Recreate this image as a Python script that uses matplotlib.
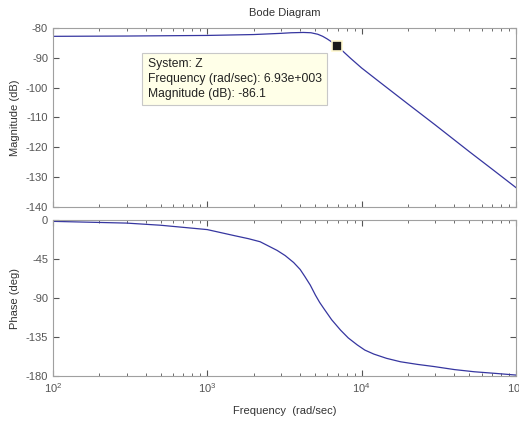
import matplotlib
matplotlib.use("Agg")
import matplotlib.pyplot as plt
from matplotlib.ticker import LogLocator, NullFormatter, FixedLocator

plt.rcParams["font.family"] = ["Liberation Sans", "DejaVu Sans"]
plt.rcParams["axes.unicode_minus"] = False

# values
mag_freq = [100, 300, 1000, 2000, 3000, 3500, 4200, 4700, 5200, 5600, 6000,
            6500, 6930, 7500, 8500, 10000, 13000, 20000, 30000, 50000, 70000,
            100000]
mag_db = [-82.8, -82.7, -82.5, -82.2, -81.8, -81.6, -81.5, -81.6, -82.1, -82.8,
          -83.7, -84.9, -86.1, -87.6, -90.2, -93.4, -98.0, -105.5, -112.5,
          -121.5, -127.3, -133.5]

ph_freq = [100, 300, 500, 1000, 1500, 1850, 2200, 2835, 3200, 3630, 4000, 4285,
           4650, 5020, 5350, 5690, 6400, 7310, 8200, 9370, 10500, 12000, 14500,
           17900, 23000, 29500, 40000, 53700, 75000, 100000]
ph_deg = [-1.5, -3.5, -6, -11, -18, -21.5, -25, -35, -41, -49, -57, -65, -75,
          -86.5, -95, -102, -115, -127, -136, -144, -150, -154.6, -159.5,
          -163.5, -166.5, -169, -172.5, -175, -177, -178.8]

tip_freq = 6930
tip_mag = -86.1

mag_ticks = [-80, -90, -100, -110, -120, -130, -140]
ph_ticks = [0, -45, -90, -135, -180]

LINE = "#3636a0"
GREY = "#555555"
SPINE = "#a0a0a0"

fig = plt.figure(figsize=(5.19, 4.24), dpi=100)
ax1 = fig.add_axes([0.102, 0.512, 0.892, 0.422])
ax2 = fig.add_axes([0.102, 0.113, 0.892, 0.368])

ax1.semilogx(mag_freq, mag_db, color=LINE, lw=0.9)
ax2.semilogx(ph_freq, ph_deg, color=LINE, lw=0.9)

for ax in (ax1, ax2):
    ax.set_xlim(1e2, 1e5)
    ax.xaxis.set_major_locator(LogLocator(base=10, numticks=10))
    ax.xaxis.set_minor_locator(LogLocator(base=10, subs=range(2, 10), numticks=20))
    ax.xaxis.set_minor_formatter(NullFormatter())
    ax.tick_params(which="both", direction="in", top=True, right=True,
                   colors=GREY, labelsize=8, length=4)
    ax.tick_params(which="minor", length=2.5)
    for s in ax.spines.values():
        s.set_color(SPINE)
        s.set_linewidth(0.8)

ax1.set_ylim(-140, -80)
ax1.yaxis.set_major_locator(FixedLocator(mag_ticks))
ax1.tick_params(labelbottom=False)
ax2.set_ylim(-180, 0)
ax2.yaxis.set_major_locator(FixedLocator(ph_ticks))

ax1.set_ylabel("Magnitude (dB)", fontsize=8, color="#333333")
ax2.set_ylabel("Phase (deg)", fontsize=8, color="#333333")
ax2.set_xlabel("Frequency  (rad/sec)", fontsize=8, color="#333333", labelpad=8)
fig.text(0.548, 0.97, "Bode Diagram", ha="center", va="center",
         fontsize=8, color="#333333")

# data tip
ax1.plot([tip_freq], [tip_mag], marker="s", ms=7, color="#1a1a1a",
         mec="#fff8d0", mew=1.2, zorder=5)
ax1.text(0.205, 0.83,
         "System: Z\nFrequency (rad/sec): 6.93e+003\nMagnitude (dB): -86.1",
         transform=ax1.transAxes, ha="left", va="top", fontsize=8.7,
         color="#222222", linespacing=1.3,
         bbox=dict(boxstyle="square,pad=0.45", fc="#ffffe8", ec="#c8c8c8", lw=0.8))

fig.savefig("out.png", dpi=100)
